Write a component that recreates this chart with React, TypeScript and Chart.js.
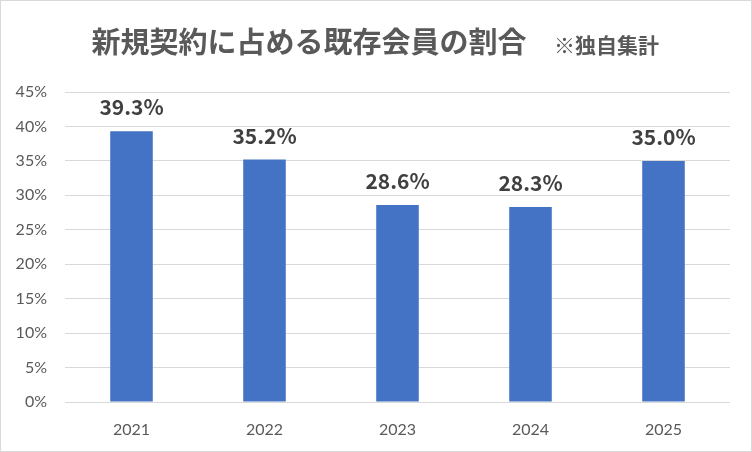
import { useEffect, useRef } from "react"
import { Chart, registerables } from "chart.js"

Chart.register(...registerables)

const years = ["2021", "2022", "2023", "2024", "2025"]
const shares = [39.3, 35.2, 28.6, 28.3, 35.0]
const mainTitle = "新規契約に占める既存会員の割合"
const subTitle = "※独自集計"

const jpFont = '"Noto Sans CJK JP", "Noto Sans", sans-serif'
const tickFont = 'Lato, "Noto Sans", sans-serif'

const framePlugin = {
  id: "frame",
  beforeDraw(chart: Chart) {
    const { ctx, width, height } = chart
    ctx.save()
    ctx.fillStyle = "#ffffff"
    ctx.fillRect(0, 0, width, height)
    ctx.strokeStyle = "#d9d9d9"
    ctx.lineWidth = 1
    ctx.strokeRect(0.5, 0.5, width - 1, height - 1)
    ctx.restore()
  },
  afterDraw(chart: Chart) {
    const { ctx } = chart
    ctx.save()
    ctx.fillStyle = "#595959"
    ctx.textBaseline = "middle"
    ctx.textAlign = "center"
    ctx.font = `bold 29px ${jpFont}`
    ctx.fillText(mainTitle, 309, 42)
    ctx.textAlign = "left"
    ctx.font = `bold 21px ${jpFont}`
    ctx.fillText(subTitle, 554, 45)

    // value labels above the bars
    const meta = chart.getDatasetMeta(0)
    ctx.fillStyle = "#404040"
    ctx.textAlign = "center"
    ctx.textBaseline = "alphabetic"
    ctx.font = `bold 21px ${jpFont}`
    meta.data.forEach((bar, i) => {
      ctx.fillText(shares[i].toFixed(1) + "%", bar.x, bar.y - 16)
    })
    ctx.restore()
  },
}

export default function App() {
  const canvasRef = useRef<HTMLCanvasElement>(null)
  const chartRef = useRef<Chart | null>(null)

  useEffect(() => {
    if (!canvasRef.current) return
    if (chartRef.current) chartRef.current.destroy()

    chartRef.current = new Chart(canvasRef.current, {
      type: "bar",
      data: {
        labels: years,
        datasets: [
          {
            data: shares,
            backgroundColor: "#4472c4",
            categoryPercentage: 1,
            barPercentage: 0.32,
          },
        ],
      },
      options: {
        animation: false,
        responsive: false,
        layout: { padding: { top: 92, right: 22, left: 0, bottom: 0 } },
        plugins: {
          legend: { display: false },
          tooltip: { enabled: false },
        },
        scales: {
          x: {
            grid: { display: false },
            border: { display: false },
            ticks: { color: "#595959", font: { family: tickFont, size: 16 }, padding: 10 },
            afterFit(scale) {
              scale.height = 50
            },
          },
          y: {
            min: 0,
            max: 45,
            grid: { color: "#d9d9d9", drawTicks: false },
            border: { display: false },
            ticks: {
              stepSize: 5,
              color: "#595959",
              font: { family: tickFont, size: 16 },
              padding: 18,
              callback: (v) => v + "%",
            },
            afterFit(scale) {
              scale.width = 65
            },
          },
        },
      },
      plugins: [framePlugin],
    })

    return () => {
      if (chartRef.current) {
        chartRef.current.destroy()
        chartRef.current = null
      }
    }
  }, [])

  return (
    <div style={{ position: "fixed", left: 0, top: 0, width: 752, height: 452 }}>
      <canvas ref={canvasRef} width={752} height={452} />
    </div>
  )
}
